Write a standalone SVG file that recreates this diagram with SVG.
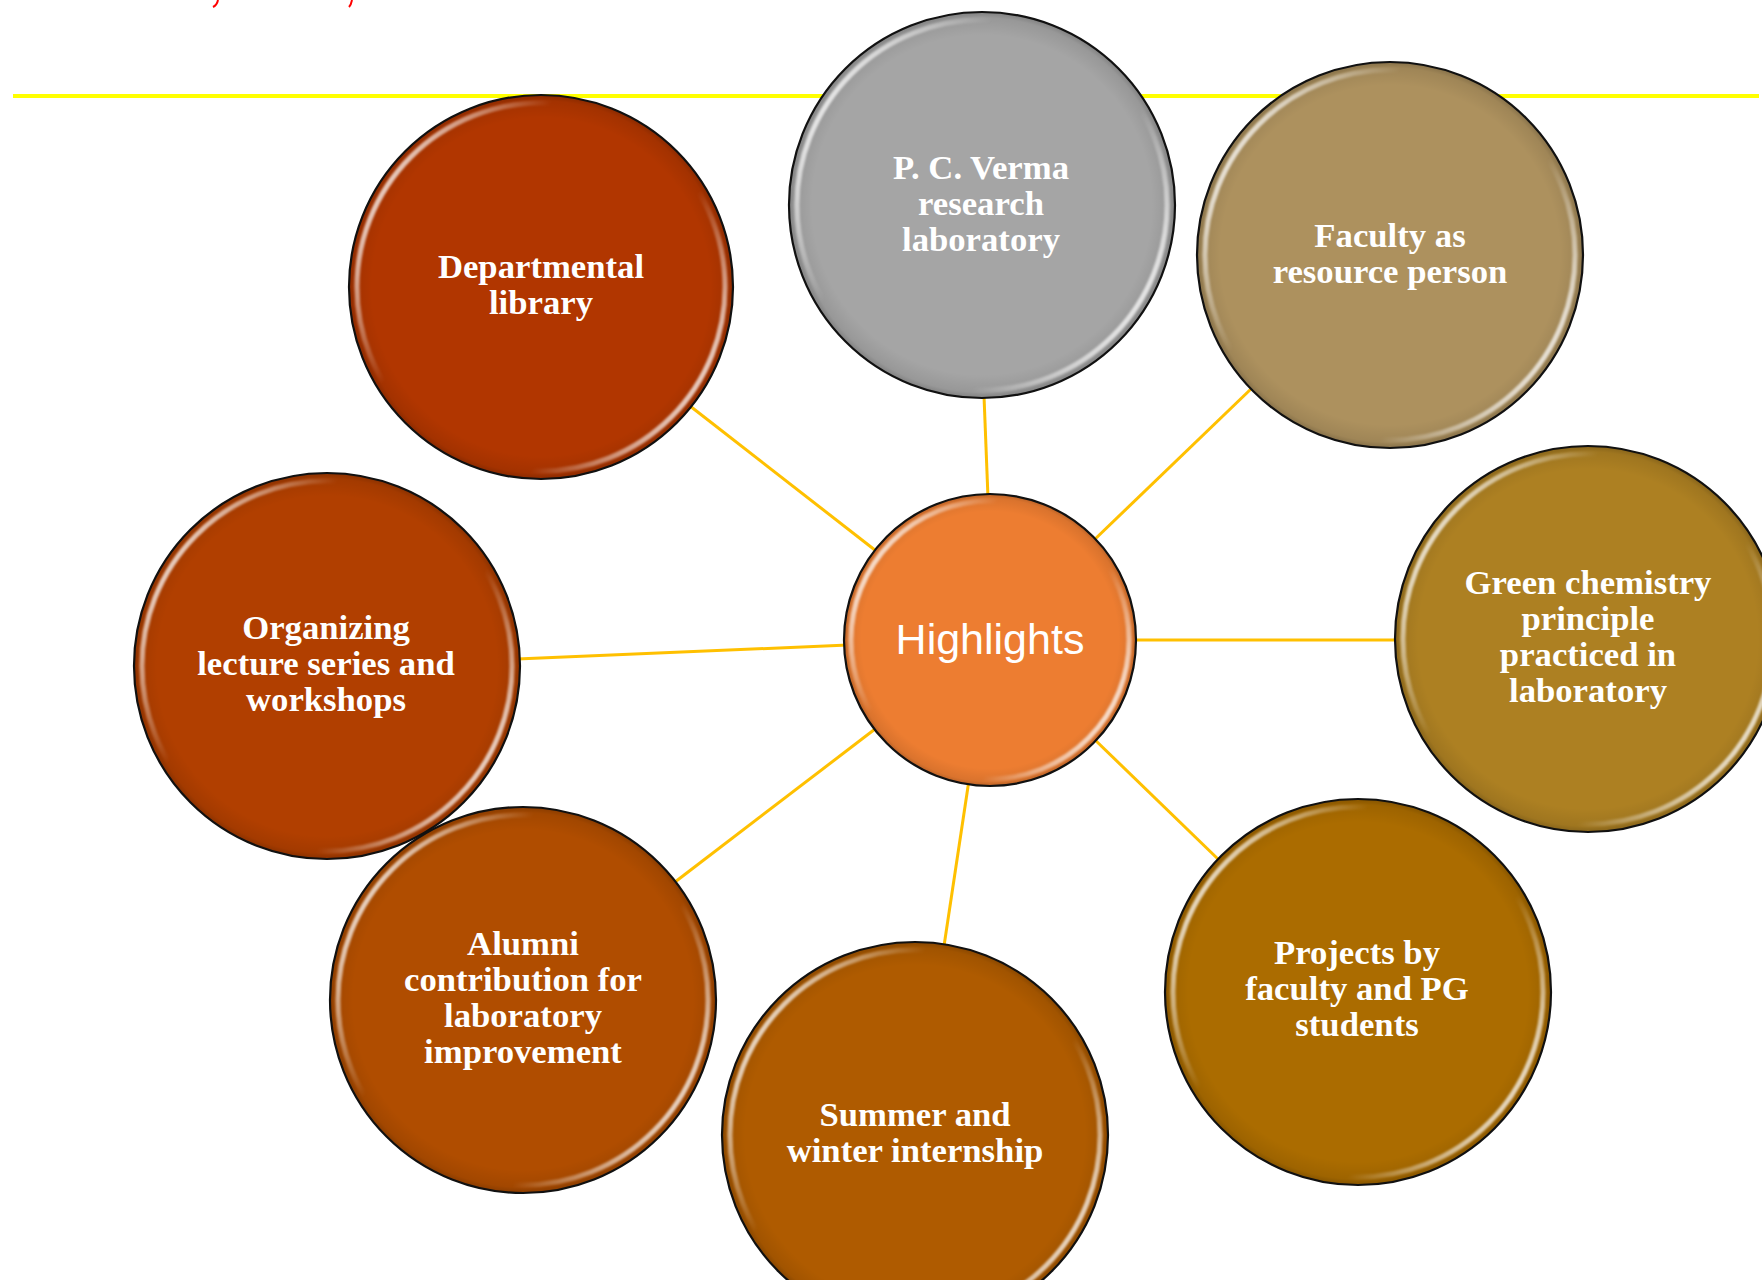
<svg xmlns="http://www.w3.org/2000/svg" width="1762" height="1280" viewBox="0 0 1762 1280">
<defs>
<style>
.outline{fill:none;stroke:#111;stroke-width:2.2}
.shade{fill:url(#shade)}
.rim{fill:none;stroke:url(#rim);stroke-width:5;filter:url(#soft)}
.lbl{font-family:"Liberation Serif","Times New Roman",serif;font-weight:bold;font-size:34.7px;fill:#fff;text-anchor:middle}
.conn{stroke:#FFC000;stroke-width:3;fill:none}
</style>
<radialGradient id="shade" cx="0.5" cy="0.5" r="0.5">
<stop offset="0.88" stop-color="#000" stop-opacity="0"/>
<stop offset="0.97" stop-color="#000" stop-opacity="0.08"/>
<stop offset="1" stop-color="#000" stop-opacity="0.22"/>
</radialGradient>
<linearGradient id="rim" x1="0" y1="0.2" x2="1" y2="0.8">
<stop offset="0" stop-color="#fff" stop-opacity="0.95"/>
<stop offset="0.3" stop-color="#fff" stop-opacity="0"/>
<stop offset="0.7" stop-color="#fff" stop-opacity="0"/>
<stop offset="1" stop-color="#fff" stop-opacity="0.95"/>
</linearGradient>
<filter id="soft" x="-10%" y="-10%" width="120%" height="120%"><feGaussianBlur stdDeviation="1.3"/></filter>
</defs>
<rect width="1762" height="1280" fill="#fff"/>
<g id="header">
<line x1="13" y1="96" x2="1759" y2="96" stroke="#FFFF00" stroke-width="4"/>
<path d="M218,0 Q217,5 213,7" stroke="#F00" stroke-width="2" fill="none"/>
<path d="M352,0 Q351,5 349,7" stroke="#F00" stroke-width="2" fill="none"/>
</g>
<g id="connectors">
<line class="conn" x1="690" y1="406" x2="880" y2="554"/>
<line class="conn" x1="984" y1="396" x2="988" y2="498"/>
<line class="conn" x1="1252" y1="388" x2="1092" y2="542"/>
<line class="conn" x1="1132" y1="640" x2="1398" y2="640"/>
<line class="conn" x1="848" y1="645" x2="517" y2="659"/>
<line class="conn" x1="879" y1="726" x2="675" y2="882"/>
<line class="conn" x1="969" y1="780" x2="944" y2="946"/>
<line class="conn" x1="1092" y1="737" x2="1219" y2="860"/>
</g>
<g id="n-pcverma">
<circle cx="982" cy="205" r="193" fill="#A5A5A5"/>
<circle class="shade" cx="982" cy="205" r="193"/>
<circle class="rim" cx="982" cy="205" r="185"/>
<circle class="outline" cx="982" cy="205" r="193"/>
<text class="lbl"><tspan x="981" y="179">P. C. Verma</tspan><tspan x="981" y="215">research</tspan><tspan x="981" y="251">laboratory</tspan></text>
</g>
<g id="n-library">
<circle cx="541" cy="287" r="192" fill="#B13600"/>
<circle class="shade" cx="541" cy="287" r="192"/>
<circle class="rim" cx="541" cy="287" r="184"/>
<circle class="outline" cx="541" cy="287" r="192"/>
<text class="lbl"><tspan x="541" y="278">Departmental</tspan><tspan x="541" y="314">library</tspan></text>
</g>
<g id="n-faculty">
<circle cx="1390" cy="255" r="193" fill="#AD915E"/>
<circle class="shade" cx="1390" cy="255" r="193"/>
<circle class="rim" cx="1390" cy="255" r="185"/>
<circle class="outline" cx="1390" cy="255" r="193"/>
<text class="lbl"><tspan x="1390" y="247">Faculty as</tspan><tspan x="1390" y="283">resource person</tspan></text>
</g>
<g id="n-green">
<circle cx="1588" cy="639" r="193" fill="#AD8022"/>
<circle class="shade" cx="1588" cy="639" r="193"/>
<circle class="rim" cx="1588" cy="639" r="185"/>
<circle class="outline" cx="1588" cy="639" r="193"/>
<text class="lbl"><tspan x="1588" y="594">Green chemistry</tspan><tspan x="1588" y="630">principle</tspan><tspan x="1588" y="666">practiced in</tspan><tspan x="1588" y="702">laboratory</tspan></text>
</g>
<g id="n-organizing">
<circle cx="327" cy="666" r="193" fill="#B13F00"/>
<circle class="shade" cx="327" cy="666" r="193"/>
<circle class="rim" cx="327" cy="666" r="185"/>
<circle class="outline" cx="327" cy="666" r="193"/>
<text class="lbl"><tspan x="326" y="639">Organizing</tspan><tspan x="326" y="675">lecture series and</tspan><tspan x="326" y="711">workshops</tspan></text>
</g>
<g id="n-alumni">
<circle cx="523" cy="1000" r="193" fill="#B04D00"/>
<circle class="shade" cx="523" cy="1000" r="193"/>
<circle class="rim" cx="523" cy="1000" r="185"/>
<circle class="outline" cx="523" cy="1000" r="193"/>
<text class="lbl"><tspan x="523" y="955">Alumni</tspan><tspan x="523" y="991">contribution for</tspan><tspan x="523" y="1027">laboratory</tspan><tspan x="523" y="1063">improvement</tspan></text>
</g>
<g id="n-projects">
<circle cx="1358" cy="992" r="193" fill="#AB6C00"/>
<circle class="shade" cx="1358" cy="992" r="193"/>
<circle class="rim" cx="1358" cy="992" r="185"/>
<circle class="outline" cx="1358" cy="992" r="193"/>
<text class="lbl"><tspan x="1357" y="964">Projects by</tspan><tspan x="1357" y="1000">faculty and PG</tspan><tspan x="1357" y="1036">students</tspan></text>
</g>
<g id="n-summer">
<circle cx="915" cy="1135" r="193" fill="#AF5B00"/>
<circle class="shade" cx="915" cy="1135" r="193"/>
<circle class="rim" cx="915" cy="1135" r="185"/>
<circle class="outline" cx="915" cy="1135" r="193"/>
<text class="lbl"><tspan x="915" y="1126">Summer and</tspan><tspan x="915" y="1162">winter internship</tspan></text>
</g>
<g id="n-highlights">
<circle cx="990" cy="640" r="146" fill="#ED7D31"/>
<circle class="shade" cx="990" cy="640" r="146"/>
<circle class="rim" cx="990" cy="640" r="139"/>
<circle class="outline" cx="990" cy="640" r="146"/>
<text x="990" y="654" font-family="Liberation Sans, Arial, sans-serif" font-size="43" fill="#fff" text-anchor="middle">Highlights</text>
</g>
</svg>
